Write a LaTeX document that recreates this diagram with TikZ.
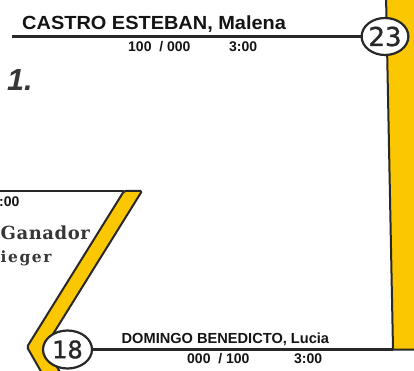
\documentclass[tikz,border=0pt]{standalone}
\usepackage{fontspec}
\setmainfont{Liberation Sans}
\newfontfamily\slabfont{DejaVu Serif}[LetterSpace=3]
\newfontfamily\slabwide{DejaVu Serif}[LetterSpace=10]
\newfontfamily\seedfont{DejaVu Sans}[FakeBold=1.2]
\usetikzlibrary{shapes.geometric}
\definecolor{yel}{RGB}{250,199,0}
\definecolor{ink}{RGB}{40,40,40}
\definecolor{txt}{RGB}{20,20,20}
\definecolor{grey}{RGB}{55,55,55}
\tikzset{
  ln/.style={draw=ink, line width=2.2pt},
  band/.style={fill=yel, draw=ink, line width=2pt, line join=round, rounded corners=1.5pt},
  lbl/.style={anchor=base west, inner sep=0pt, text=txt, font=\bfseries},
  seed/.style={ellipse, draw=ink, line width=2.2pt, fill=white, inner sep=0pt, text=ink},
  slab/.style={anchor=base west, inner sep=0pt, text=grey},
}
\begin{document}
\begin{tikzpicture}[x=1pt,y=-1pt]
\useasboundingbox (0,0) rectangle (414,371);
% right yellow bar
\coordinate (bartop) at (386,-5);
\coordinate (barbot) at (393,349.5);
\filldraw[band, rounded corners=0pt] (bartop) -- (barbot) -- (416,349.5) -- (416,-5) -- cycle;
% left yellow chevron band
\coordinate (bandtl) at (124,191);
\filldraw[band] (bandtl) -- (27,347) -- (47,382) -- (66,382) -- (45,347) -- (142,191) -- cycle;
\coordinate (boxl) at (-3,191);
\draw[ln] (boxl) -- (bandtl);
% seed ellipses
\node[seed, minimum width=44pt, minimum height=37pt, font=\seedfont\fontsize{26}{26}\selectfont] (e23) at (385,36.5) {23};
\node[seed, minimum width=49pt, minimum height=38pt, font=\seedfont\fontsize{24}{24}\selectfont] (e18) at (67.5,349.5) {18};
% connectors
\coordinate (topl) at (12,36.5);
\draw[ln] (topl) -- (e23.west);
\draw[ln] (e18.east) -- (barbot);
% top player
\node[lbl, font=\bfseries\fontsize{19}{22}\selectfont] (p1) at (22,30) {\scalebox{1.05}[1]{CASTRO ESTEBAN, Malena}};
\node[lbl, font=\bfseries\fontsize{14}{16}\selectfont] (s1) at (128,51.3) {100~~/ 000};
\node[lbl, font=\bfseries\fontsize{14}{16}\selectfont] (t1) at (229,51.3) {3:00};
\node[anchor=base west, inner sep=0pt, text=grey, font=\bfseries\itshape\fontsize{30.5}{32}\selectfont] (n1) at (7,91) {1.};
% bottom player
\node[lbl, font=\bfseries\fontsize{14.6}{17}\selectfont] (p2) at (121.5,343) {DOMINGO BENEDICTO, Lucia};
\node[lbl, font=\bfseries\fontsize{14}{16}\selectfont] (s2) at (187,363) {000~~/ 100};
\node[lbl, font=\bfseries\fontsize{14}{16}\selectfont] (t2) at (294,363) {3:00};
% left box texts
\node[lbl, font=\bfseries\fontsize{14}{16}\selectfont] (t0) at (-1,206) {:00};
\node[slab, font=\slabfont\bfseries\fontsize{18}{20}\selectfont] (g) at (0.5,239) {Ganador};
\node[slab, font=\slabwide\bfseries\fontsize{15.5}{18}\selectfont] (s) at (0.5,262.5) {ieger};
\end{tikzpicture}
\end{document}
